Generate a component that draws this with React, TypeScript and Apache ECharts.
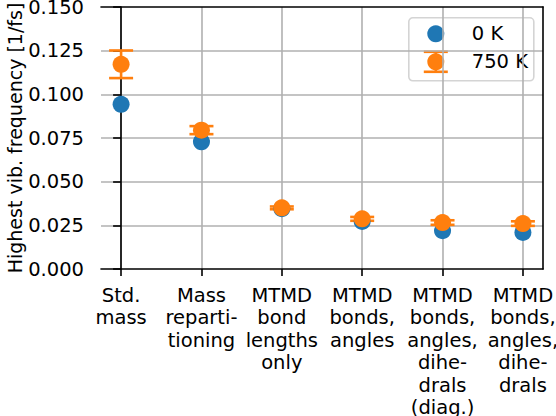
import React, { useEffect, useRef } from "react";
import * as echarts from "echarts";

// Simulation setups compared along the x axis
const categories = [
  "Std.\nmass",
  "Mass\nreparti-\ntioning",
  "MTMD\nbond\nlengths\nonly",
  "MTMD\nbonds,\nangles",
  "MTMD\nbonds,\nangles,\ndihe-\ndrals\n(diag.)",
  "MTMD\nbonds,\nangles,\ndihe-\ndrals",
];

// Highest vibrational frequency [1/fs]
const freq0K = [0.0943, 0.0728, 0.0345, 0.0272, 0.0219, 0.0209];
const freq750K = [0.1172, 0.0795, 0.035, 0.0287, 0.0266, 0.026];
const err750K = [0.0079, 0.0023, 0.0008, 0.0011, 0.0013, 0.0013];

const yTicks = [0, 0.025, 0.05, 0.075, 0.1, 0.125, 0.15];

const BLUE = "#1f77b4";
const ORANGE = "#ff7f0e";
const FONT = "DejaVu Sans";

export default function App() {
  const ref = useRef<HTMLDivElement>(null);

  useEffect(() => {
    if (!ref.current) return;
    const chart = echarts.init(ref.current, undefined, { renderer: "svg" });

    const idx = categories.map((_, i) => i);
    const pts0 = idx.map((i) => [i, freq0K[i]]);
    const pts750 = idx.map((i) => [i, freq750K[i]]);
    const bars750 = idx.map((i) => [i, freq750K[i] - err750K[i], freq750K[i] + err750K[i]]);

    const lw = 1.6;
    const errStyle = { stroke: ORANGE, lineWidth: 2.6 };

    chart.setOption({
      animation: false,
      backgroundColor: "#ffffff",
      textStyle: { fontFamily: FONT },
      grid: {
        left: 101,
        right: 13,
        top: 7,
        bottom: 147,
        containLabel: false,
        outerBoundsMode: "none",
      },
      xAxis: [
        {
          type: "value",
          min: -0.25,
          max: 5.25,
          axisLine: { show: true, lineStyle: { color: "#000", width: lw } },
          axisTick: {
            show: true,
            length: 7,
            lineStyle: { color: "#000", width: lw },
            customValues: idx,
          },
          axisLabel: {
            customValues: idx,
            formatter: (v: number) => categories[Math.round(v)] ?? "",
            fontFamily: FONT,
            fontSize: 19.5,
            lineHeight: 22.5,
            color: "#000",
            margin: 15,
            align: "center",
          },
          splitLine: { show: true, lineStyle: { color: "#b0b0b0", width: lw } },
        },
        {
          type: "value",
          position: "top",
          min: -0.25,
          max: 5.25,
          axisLine: { show: true, onZero: false, lineStyle: { color: "#000", width: lw } },
          axisTick: { show: false },
          axisLabel: { show: false },
          splitLine: { show: false },
        },
      ],
      yAxis: [
        {
          type: "value",
          min: 0,
          max: 0.15,
          interval: 0.025,
          name: "Highest vib. frequency [1/fs]",
          nameLocation: "middle",
          nameGap: 77,
          nameMoveOverlap: false,
          nameTextStyle: { fontFamily: FONT, fontSize: 19, color: "#000" },
          axisLine: { show: true, lineStyle: { color: "#000", width: lw } },
          axisTick: { show: true, length: 8, lineStyle: { color: "#000", width: lw } },
          axisLabel: {
            fontFamily: FONT,
            fontSize: 19.5,
            color: "#000",
            margin: 17,
            formatter: (v: number) => {
              const t = yTicks.find((y) => Math.abs(y - v) < 1e-9);
              return (t ?? v).toFixed(3);
            },
          },
          splitLine: {
            show: true,
            showMinLine: false,
            showMaxLine: false,
            lineStyle: { color: "#b0b0b0", width: lw },
          },
        },
        {
          type: "value",
          position: "right",
          min: 0,
          max: 0.15,
          axisLine: { show: true, onZero: false, lineStyle: { color: "#000", width: lw } },
          axisTick: { show: false },
          axisLabel: { show: false },
          splitLine: { show: false },
        },
      ],
      series: [
        {
          name: "0 K",
          type: "scatter",
          xAxisIndex: 0,
          yAxisIndex: 0,
          data: pts0,
          symbol: "circle",
          symbolSize: 17,
          itemStyle: { color: BLUE, opacity: 1 },
        },
        {
          name: "750 K error",
          type: "custom",
          xAxisIndex: 0,
          yAxisIndex: 0,
          data: bars750,
          encode: { x: 0, y: [1, 2] },
          renderItem: (_params: any, api: any) => {
            const x = api.value(0);
            const lo = api.coord([x, api.value(1)]);
            const hi = api.coord([x, api.value(2)]);
            const hw = 12;
            return {
              type: "group",
              children: [
                { type: "line", shape: { x1: lo[0], y1: lo[1], x2: hi[0], y2: hi[1] }, style: errStyle },
                { type: "line", shape: { x1: lo[0] - hw, y1: lo[1], x2: lo[0] + hw, y2: lo[1] }, style: errStyle },
                { type: "line", shape: { x1: hi[0] - hw, y1: hi[1], x2: hi[0] + hw, y2: hi[1] }, style: errStyle },
              ],
            };
          },
        },
        {
          name: "750 K",
          type: "scatter",
          xAxisIndex: 0,
          yAxisIndex: 0,
          data: pts750,
          symbol: "circle",
          symbolSize: 17,
          itemStyle: { color: ORANGE, opacity: 1 },
        },
      ],
      graphic: [
        {
          type: "group",
          left: 408,
          top: 17,
          z: 100,
          children: [
            {
              type: "rect",
              shape: { x: 0, y: 0, width: 125, height: 63, r: 4 },
              style: { fill: "rgba(255,255,255,0.85)", stroke: "#d4d4d4", lineWidth: 1.6 },
            },
            { type: "circle", shape: { cx: 27, cy: 16, r: 8.5 }, style: { fill: BLUE } },
            { type: "line", shape: { x1: 27, y1: 34, x2: 27, y2: 54 }, style: errStyle },
            { type: "line", shape: { x1: 15, y1: 34, x2: 39, y2: 34 }, style: errStyle },
            { type: "line", shape: { x1: 15, y1: 54, x2: 39, y2: 54 }, style: errStyle },
            { type: "circle", shape: { cx: 27, cy: 44, r: 8.5 }, style: { fill: ORANGE } },
            {
              type: "text",
              x: 63,
              y: 16,
              style: { text: "0 K", fontFamily: FONT, fontSize: 19.5, fill: "#000", verticalAlign: "middle" },
            },
            {
              type: "text",
              x: 63,
              y: 44,
              style: { text: "750 K", fontFamily: FONT, fontSize: 19.5, fill: "#000", verticalAlign: "middle" },
            },
          ],
        },
      ],
    });

    return () => chart.dispose();
  }, []);

  return (
    <div
      ref={ref}
      style={{ position: "fixed", left: 0, top: 0, width: 556, height: 416, background: "#fff" }}
    />
  );
}
